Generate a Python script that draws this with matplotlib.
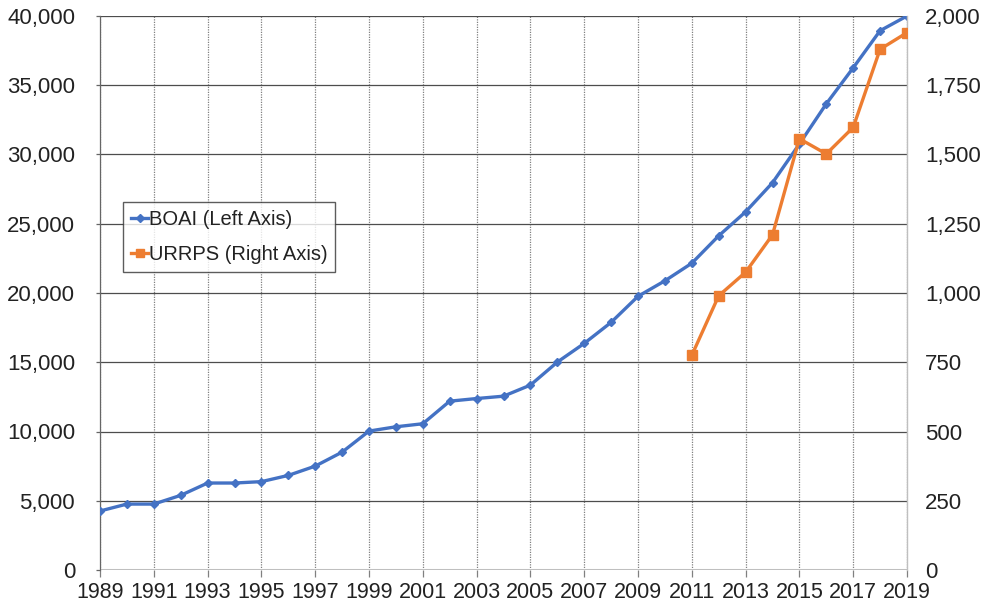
import matplotlib.pyplot as plt
import matplotlib.ticker as ticker
from matplotlib import font_manager

_BLUE = "#4472c4"
_ORANGE = "#ed7d31"

years = list(range(1989, 2020))
boai = [4260, 4760, 4760, 5390, 6280, 6280, 6380, 6830, 7500, 8510,
        10030, 10340, 10560, 12190, 12380, 12550, 13350, 15010, 16360, 17880,
        19760, 20880, 22150, 24130, 25860, 27960, 30760, 33660, 36260, 38940,
        40000]
urrps_years = list(range(2011, 2020))
urrps = [775, 990, 1075, 1210, 1557, 1502, 1598, 1880, 1940]

tick_years = list(range(1989, 2020, 2))

installed = {f.name for f in font_manager.fontManager.ttflist}
narrow = "Liberation Sans Narrow" if "Liberation Sans Narrow" in installed else "Liberation Sans"
plt.rcParams["font.family"] = ["Liberation Sans", "DejaVu Sans"]

fig = plt.figure(figsize=(9.81, 6.08), dpi=100)
ax = fig.add_axes([100 / 981, 38 / 608, 807 / 981, 554 / 608])
ax2 = ax.twinx()

l1, = ax.plot(years, boai, color=_BLUE, linewidth=2.4, marker="D", markersize=4.5,
              label="BOAI (Left Axis)", zorder=3)
l2, = ax2.plot(urrps_years, urrps, color=_ORANGE, linewidth=2.4, marker="s",
               markersize=7, label="URRPS (Right Axis)", zorder=3)

ax.set_xlim(1989, 2019)
ax.set_ylim(0, 40000)
ax2.set_ylim(0, 2000)

ax.yaxis.set_major_locator(ticker.MultipleLocator(5000))
ax2.yaxis.set_major_locator(ticker.MultipleLocator(250))
ax.yaxis.set_major_formatter(ticker.StrMethodFormatter("{x:,.0f}"))
ax2.yaxis.set_major_formatter(ticker.StrMethodFormatter("{x:,.0f}"))
ax.set_xticks(tick_years)
ax.set_xticklabels([str(y) for y in tick_years], fontfamily=narrow, fontsize=15.5)

for a in (ax, ax2):
    for s in a.spines.values():
        s.set_visible(False)
ax.spines["left"].set_visible(True)
ax.spines["left"].set_color("#666666")
ax.spines["left"].set_linewidth(0.9)
ax2.spines["right"].set_visible(True)
ax2.spines["right"].set_color("#bfbfbf")
ax2.spines["right"].set_linewidth(1.0)

ax.grid(axis="y", color="#4d4d4d", linewidth=0.9, linestyle="-")
ax.grid(axis="x", color="#808080", linewidth=0.9, linestyle=(0, (1, 1)))
ax.set_axisbelow(True)
ax.axhline(0, color="#bfbfbf", linewidth=2.2, zorder=1)

ax.tick_params(axis="y", length=3, width=0.9, color="#666666", pad=15,
               labelsize=16, labelcolor="#222222")
ax2.tick_params(axis="y", length=0, pad=13, labelsize=16, labelcolor="#222222")
ax.tick_params(axis="x", length=5, width=0.9, color="#808080", pad=4, labelcolor="#222222")

leg = ax.legend(handles=[l1, l2], loc="upper left", bbox_to_anchor=(0.029, 0.664),
                fontsize=14.5, frameon=True, fancybox=False, borderpad=0.4,
                handlelength=0.8, handletextpad=0.05, labelspacing=0.8,
                borderaxespad=0, markerscale=0.8)
leg.get_frame().set_edgecolor("#333333")
leg.get_frame().set_linewidth(1.0)
for t in leg.get_texts():
    t.set_color("#222222")

fig.savefig("out.png", dpi=100)
